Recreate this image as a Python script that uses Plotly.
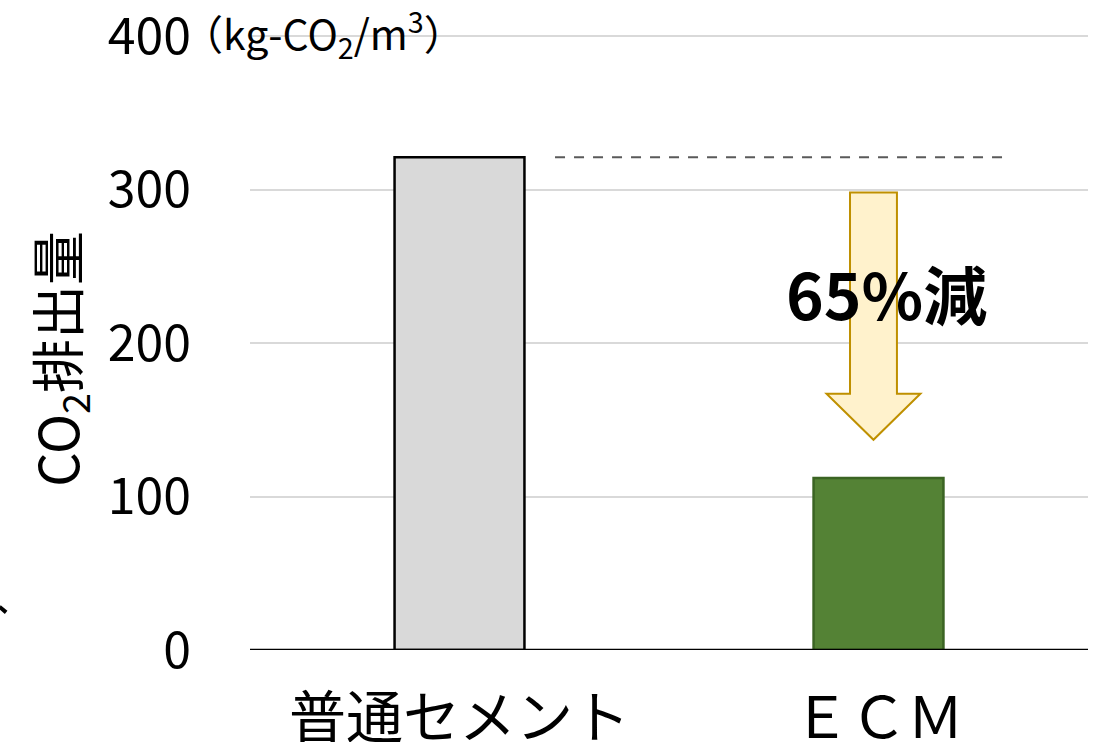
import plotly.graph_objects as go

# CO2 emissions per cubic metre of concrete
categories = ["普通セメント", "ＥＣＭ"]
emissions = [321, 112]
bar_colors = ["#d9d9d9", "#548235"]
bar_lines = ["#000000", "#3b6423"]
y_ticks = [0, 100, 200, 300, 400]
reduction_label = "65%減"

FONT = "Noto Sans CJK JP"

fig = go.Figure()
fig.add_trace(go.Bar(
    x=[0, 1],
    y=emissions,
    width=0.31,
    marker=dict(color=bar_colors, line=dict(color=bar_lines, width=2.5)),
    hoverinfo="skip",
))

# dashed reference level at the ordinary-cement value
fig.add_shape(type="line", x0=0.228, x1=1.302, y0=emissions[0], y1=emissions[0],
              line=dict(color="#5a5a5a", width=2, dash="10px,9px"), layer="above")

# downward reduction arrow
ax, shaft, head = 0.988, 0.056, 0.112
top, neck, tip = 298, 167, 137
path = (f"M {ax-shaft},{top} L {ax+shaft},{top} L {ax+shaft},{neck} "
        f"L {ax+head},{neck} L {ax},{tip} L {ax-head},{neck} "
        f"L {ax-shaft},{neck} Z")
fig.add_shape(type="path", path=path, fillcolor="#fff2cc",
              line=dict(color="#bf9000", width=2), layer="above")

fig.add_annotation(x=1.02, y=233, text=f"<b>{reduction_label}</b>", showarrow=False,
                   font=dict(family=FONT, size=64, color="#000000"))

# unit label beside the top tick
fig.add_annotation(xref="paper", yref="paper", x=-0.083, y=1.0, xanchor="left", yanchor="middle",
                   text="（kg-CO<sub>2</sub>/m<sup>3</sup>）", showarrow=False,
                   font=dict(family=FONT, size=41, color="#000000"))

# y-axis title
fig.add_annotation(xref="paper", yref="paper", x=-0.228, y=0.472, xanchor="center", yanchor="middle",
                   text="CO<sub>2</sub>排出量", textangle=-90, showarrow=False,
                   font=dict(family=FONT, size=54, color="#000000"))

# small stray stroke at the left edge
fig.add_shape(type="line", xref="paper", yref="paper", x0=-0.299, y0=0.070, x1=-0.291, y1=0.061,
              line=dict(color="#000000", width=4))

fig.add_shape(type="line", xref="paper", yref="y", x0=0, x1=1, y0=0, y1=0,
              line=dict(color="#000000", width=2.5), layer="above")

fig.update_layout(
    width=1094, height=742,
    margin=dict(l=250, r=6, t=33, b=92, autoexpand=False),
    paper_bgcolor="white", plot_bgcolor="white",
    showlegend=False,
    font=dict(family=FONT, color="#000000"),
    xaxis=dict(
        range=[-0.5, 1.5],
        tickmode="array", tickvals=[0, 1], ticktext=categories,
        tickfont=dict(family=FONT, size=57, color="#000000"),
        showgrid=False, zeroline=False, showline=False, ticks="",
        ticklabelstandoff=30, automargin=False,
    ),
    yaxis=dict(
        range=[0, 402],
        tickmode="array", tickvals=y_ticks,
        tickfont=dict(family=FONT, size=50, color="#000000"),
        showgrid=True, gridcolor="#d9d9d9", gridwidth=2,
        zeroline=False, showline=False, ticks="",
        ticklabelstandoff=58, automargin=False,
        ticklabeloverflow="allow",
    ),
)

fig.write_html("out.html")
